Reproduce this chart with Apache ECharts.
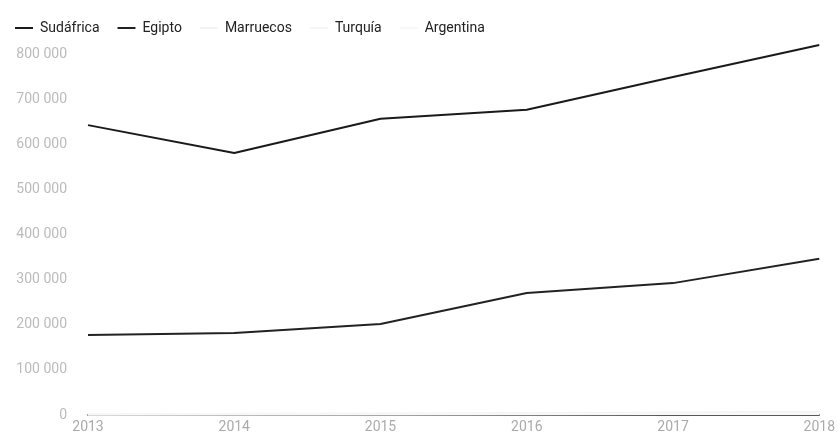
<!DOCTYPE html>
<html>
<head>
<meta charset="utf-8">
<script src="https://cdn.jsdelivr.net/npm/echarts@6/dist/echarts.min.js"></script>
<style>
  html, body { margin: 0; padding: 0; background: #fff; }
  #line-chart { width: 838px; height: 434px; }
</style>
</head>
<body>
<div id="line-chart"></div>
<script>
const years = ['2013', '2014', '2015', '2016', '2017', '2018'];
const sudafrica = [644000, 582000, 658000, 678000, 751000, 822000];
const egipto = [178000, 182000, 202000, 271000, 293000, 347000];
const marruecos = [2000, 2500, 3500, 4500, 5500, 7000];
const turquia = [1500, 1800, 2400, 3000, 3600, 4200];
const argentina = [800, 1000, 1300, 1500, 2000, 2400];

const myChart = echarts.init(document.getElementById('line-chart'));

function serie(name, data) {
  return {
    name: name,
    type: 'line',
    showSymbol: false,
    lineStyle: { width: 2 },
    data: data
  };
}

const option = {
  color: ['#1a1a1a', '#222222', '#f4f4f4', '#f6f6f6', '#f8f8f8'],
  textStyle: { fontFamily: 'Roboto' },
  legend: {
    left: 10,
    top: 16,
    itemWidth: 18,
    itemHeight: 2,
    itemGap: 18,
    icon: 'rect',
    textStyle: { fontSize: 14, color: '#222', padding: [0, 0, 0, 2] },
    data: ['Sudáfrica', 'Egipto', 'Marruecos', 'Turquía', 'Argentina']
  },
  grid: {
    left: 88,
    right: 18,
    top: 45,
    bottom: 19
  },
  xAxis: {
    type: 'category',
    boundaryGap: false,
    data: years,
    axisLine: { lineStyle: { color: '#222', width: 1.5 } },
    axisTick: { show: false },
    axisLabel: { color: '#aaa', fontSize: 14, margin: 5 }
  },
  yAxis: {
    type: 'value',
    min: 0,
    max: 'dataMax',
    interval: 100000,
    splitLine: { show: false },
    axisLabel: {
      color: '#bbb',
      fontSize: 14,
      margin: 21,
      showMaxLabel: false,
      formatter: function (v) {
        return String(v).replace(/\B(?=(\d{3})+(?!\d))/g, ' ');
      }
    }
  },
  series: [
    serie('Sudáfrica', sudafrica),
    serie('Egipto', egipto),
    serie('Marruecos', marruecos),
    serie('Turquía', turquia),
    serie('Argentina', argentina)
  ]
};
myChart.setOption(option);
</script>
</body>
</html>
